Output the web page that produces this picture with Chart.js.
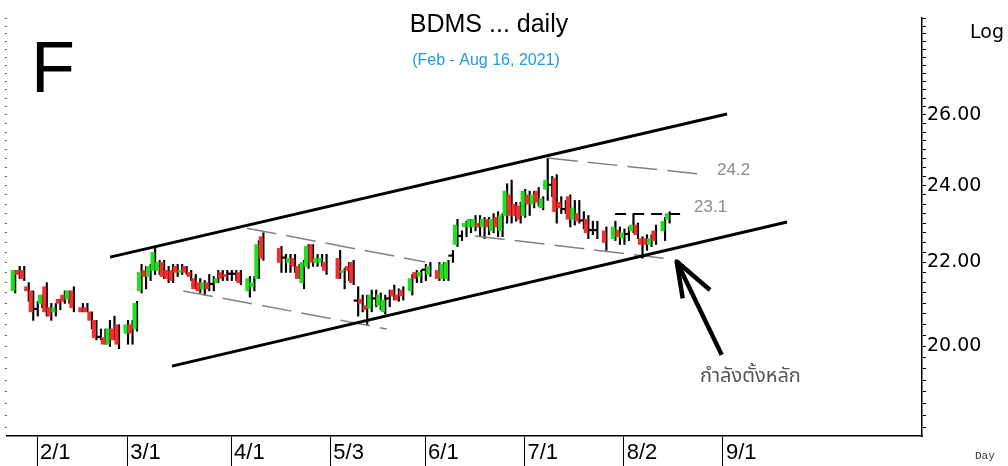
<!DOCTYPE html>
<html><head><meta charset="utf-8">
<script src="https://cdn.jsdelivr.net/npm/chart.js@4.4.1/dist/chart.umd.min.js"></script>
<style>html,body{margin:0;padding:0;background:#fff;overflow:hidden}canvas{display:block}</style>
</head><body>
<canvas id="c" width="1008" height="466"></canvas>
<script>
// Trading-day index of the first candle (Feb 1, 2021 = 0, weekdays counted, holidays = null)
const firstDay = -5;
const open = [
 21.3,21.8,21.8,21.4,21.3,20.85,21.0,21.4,20.9,20.8,
 21.1,21.2,21.1,21.3,null,20.9,20.9,20.8,20.6,20.2,
 20.2,20.05,20.4,20.5,null,20.3,20.5,20.4,21.3,21.8,
 21.65,21.8,21.8,22.0,21.8,21.8,21.9,21.75,21.9,21.75,
 21.6,21.5,21.35,21.5,21.45,21.5,21.75,21.7,21.7,21.7,
 21.75,null,21.3,21.4,21.6,22.65,null,null,null,22.35,
 22.1,22.0,22.1,21.9,21.5,21.9,22.45,22.0,22.0,22.0,
 null,null,22.1,21.75,21.9,22.0,21.05,21.1,20.95,20.88,
 21.1,20.95,20.8,21.1,21.32,21.2,21.32,null,21.3,21.75,
 21.65,21.8,21.7,null,21.8,21.6,21.6,22.15,22.45,22.65,
 22.9,22.9,22.9,23.0,22.9,23.1,22.8,23.15,22.8,23.2,
 23.75,23.5,23.45,23.2,23.75,23.5,23.85,23.4,23.9,24.0,
 24.2,23.55,23.35,23.7,23.1,23.25,23.05,23.1,22.8,22.8,
 null,22.8,null,22.6,22.82,22.62,22.7,22.8,22.95,22.6,
 22.6,22.45,22.8,null,22.8,23.1];
const high = [
 21.8,21.9,21.9,21.5,21.3,21.05,21.2,21.5,21.0,21.0,
 21.1,21.3,21.3,21.4,null,21.0,21.0,20.8,20.6,20.4,
 20.4,20.6,20.7,20.5,null,20.6,20.6,21.05,21.95,21.9,
 21.95,22.35,22.05,22.05,21.9,21.95,21.95,21.95,21.9,21.8,
 21.7,21.6,21.55,21.7,21.65,21.8,21.8,21.8,21.8,21.8,
 21.8,null,21.65,21.65,22.55,22.75,null,null,null,22.4,
 22.2,22.2,22.2,21.95,22.05,22.45,22.45,22.2,22.2,22.2,
 null,null,22.3,21.85,22.0,22.05,21.4,21.2,21.2,21.32,
 21.32,21.25,21.2,21.32,21.44,21.35,21.4,null,21.7,21.8,
 21.8,21.95,22.0,null,22.0,22.0,22.05,22.3,23.1,22.8,
 23.05,23.1,23.2,23.2,23.15,23.15,23.25,23.3,23.25,24.05,
 24.15,23.55,23.55,23.9,23.85,23.85,23.95,23.7,24.75,24.25,
 24.3,23.7,23.6,23.75,23.6,23.6,23.3,23.2,23.05,23.05,
 null,22.9,null,23.05,22.9,22.85,22.9,23.25,23.0,22.65,
 22.7,22.7,22.95,null,23.15,23.3];
const low = [
 21.25,21.6,21.55,21.05,20.6,20.7,20.9,20.7,20.6,20.7,
 20.85,21.0,21.0,20.8,null,20.8,20.8,20.4,20.15,20.15,
 20.05,20.0,20.15,19.95,null,20.05,20.05,20.35,21.25,21.35,
 21.55,21.7,21.7,21.6,21.5,21.5,21.65,21.7,21.7,21.55,
 21.35,21.25,21.2,21.3,21.3,21.5,21.55,21.55,21.55,21.55,
 21.45,null,21.15,21.3,21.6,22.05,null,null,null,21.75,
 21.75,21.75,21.75,21.6,21.35,21.85,21.9,21.9,21.9,21.7,
 null,null,21.6,21.35,21.55,21.45,20.7,20.8,20.5,20.8,
 20.92,20.85,20.75,20.92,21.08,21.05,21.08,null,21.2,21.5,
 21.5,21.55,21.65,null,21.55,21.55,21.55,22.0,22.4,22.55,
 22.65,22.75,22.8,22.65,22.6,22.7,22.75,22.65,22.65,23.0,
 23.0,23.05,23.0,23.15,23.2,23.4,23.45,23.35,23.6,23.7,
 23.0,23.25,23.25,22.9,22.95,23.0,22.85,22.6,22.7,22.6,
 null,22.3,null,22.55,22.45,22.45,22.55,22.75,22.6,22.1,
 22.3,22.4,22.45,null,22.55,23.0];
const close = [
 21.8,21.7,21.6,21.3,20.8,20.85,21.2,20.8,20.7,20.9,
 21.0,21.05,21.3,20.9,null,20.8,20.8,20.6,20.2,20.2,
 20.05,20.4,20.15,20.05,null,20.5,20.3,21.0,21.75,21.65,
 21.9,22.25,22.0,21.65,21.6,21.55,21.75,21.8,21.75,21.65,
 21.35,21.3,21.5,21.35,21.45,21.6,21.6,21.65,21.7,21.7,
 21.5,null,21.6,21.5,22.45,22.1,null,null,null,22.0,
 22.1,22.1,21.9,21.6,22.0,22.4,22.0,22.1,22.1,21.8,
 null,null,21.6,21.8,21.8,21.5,21.05,21.0,20.85,21.2,
 21.1,21.2,21.08,21.1,21.17,21.08,21.18,null,21.6,21.6,
 21.75,21.8,21.9,null,21.6,21.95,22.0,22.15,22.95,22.65,
 23.0,23.1,23.1,22.9,23.1,22.9,23.1,22.9,23.2,23.85,
 23.2,23.2,23.1,23.85,23.5,23.75,23.55,23.65,24.15,24.0,
 23.3,23.4,23.35,23.1,23.4,23.05,23.05,22.75,22.8,22.8,
 null,22.5,null,22.9,22.65,22.75,22.7,22.95,22.7,22.45,
 22.45,22.6,22.55,null,23.05,23.25];

// x-axis ticks (trading-day index) and their labels
const tickDays = [0,20,43,65,86,108,130,152];
const tickLabels = ['2/1','3/1','4/1','5/3','6/1','7/1','8/2','9/1'];
// price axis labels (log scale) and minor tick step
const priceLabels = [20,22,24,26];
const priceMinorStep = 0.25;
const priceMin = 18.07, priceMax = 29.02;
const dayMin = -6.65, dayMax = 196.1;

// drawn trend lines / annotations, as [tradingDay, price]
const upperChannel = [[16.2,22.13],[152.9,26.03]];
const lowerChannel = [[29.9,19.56],[166.2,23.03]];
const dashAprUpper = [[46.5,22.87],[86.0,22.01]];
const dashMarLower = [[32.4,21.30],[77.5,20.40]];
const dashJulLower = [[97.05,22.67],[140.7,22.08]];
const dashJulUpper = [[113.2,24.76],[148.2,24.30]];
const resistance = [[128.1,23.24],[142.9,23.24]];
const arrowShaft = [[151.72,19.81],[141.75,22.02]];
const arrowHead = [[143.08,21.12],[141.75,22.02],[149.13,21.32]];
const noteLevels = [{text:'24.2', at:[150.7,24.43]},{text:'23.1', at:[145.6,23.42]}];
const noteThai = {text:'กำลังตั้งหลัก', at:[146.9,19.30]};

const GREEN = '#22dd22', RED = '#f03030';
const bodies = [], wicks = [], bodyColors = [];
open.forEach((o, i) => {
  if (o === null) return;
  const d = firstDay + i, c = close[i];
  bodies.push({x: d, y: [Math.min(o, c), Math.max(o, c)]});
  bodyColors.push(c > o ? GREEN : (c < o ? RED : '#000'));
  wicks.push({x: d, y: [low[i], high[i]]});
});
const pts = a => a.map(p => ({x: p[0], y: p[1]}));
const lineDs = (arr, color, width, dash) => ({
  type: 'line', data: pts(arr), borderColor: color, borderWidth: width, borderDash: dash || [],
  pointRadius: 0, fill: false, tension: 0, order: 0, borderCapStyle: 'butt', borderJoinStyle: 'round'
});

const yTicks = [];
for (let v = 18.25; v <= 29.0001; v += priceMinorStep) yTicks.push(Math.round(v * 100) / 100);

const textPlugin = {
  id: 'texts',
  afterDraw(chart) {
    const {ctx, scales: {x, y}} = chart;
    ctx.save();
    ctx.fillStyle = '#000';
    ctx.textBaseline = 'alphabetic';
    ctx.textAlign = 'left';
    ctx.font = '72px "Liberation Sans", Arial, sans-serif';
    ctx.fillText('F', 31, 92);
    ctx.textAlign = 'center';
    ctx.font = '25px "Liberation Sans", Arial, sans-serif';
    ctx.fillText('BDMS ... daily', 489, 32);
    ctx.fillStyle = '#1e9be6';
    ctx.font = '16px "Liberation Sans", Arial, sans-serif';
    ctx.fillText('(Feb - Aug 16, 2021)', 486, 65);
    ctx.textAlign = 'left';
    ctx.fillStyle = '#000';
    ctx.font = '19px "DejaVu Sans", sans-serif';
    ctx.fillText('Log', 970, 38);
    ctx.fillStyle = '#333';
    ctx.font = '11px "Liberation Mono", monospace';
    ctx.fillText('Day', 975, 459);
    ctx.textBaseline = 'middle';
    ctx.fillStyle = '#8c8c8c';
    ctx.font = '17px "Liberation Sans", Arial, sans-serif';
    noteLevels.forEach(n => ctx.fillText(n.text, x.getPixelForValue(n.at[0]), y.getPixelForValue(n.at[1])));
    ctx.fillStyle = '#555';
    ctx.font = '20px "Noto Sans Thai", "Noto Sans", Loma, Garuda, sans-serif';
    ctx.fillText(noteThai.text, x.getPixelForValue(noteThai.at[0]), y.getPixelForValue(noteThai.at[1]));
    ctx.restore();
  }
};

new Chart(document.getElementById('c'), {
  type: 'bar',
  data: {
    datasets: [
      {data: bodies, backgroundColor: bodyColors, barThickness: 3.5, minBarLength: 1.5, order: 2},
      {data: wicks, backgroundColor: '#000', barThickness: 1.5, order: 3},
      lineDs(upperChannel, '#000', 3),
      lineDs(lowerChannel, '#000', 3),
      lineDs(dashAprUpper, '#808080', 1.5, [30, 10]),
      lineDs(dashMarLower, '#808080', 1.5, [30, 10]),
      lineDs(dashJulLower, '#808080', 1.5, [30, 10]),
      lineDs(dashJulUpper, '#808080', 1.5, [30, 10]),
      lineDs(resistance, '#000', 2, [11, 7]),
      lineDs(arrowShaft, '#000', 4.5),
      lineDs(arrowHead, '#000', 4.5)
    ]
  },
  options: {
    responsive: false, animation: false, devicePixelRatio: 1,
    layout: {padding: {top: 18, left: 0, right: 0, bottom: 0}},
    plugins: {legend: {display: false}, tooltip: {enabled: false}},
    scales: {
      x: {
        type: 'linear', min: dayMin, max: dayMax, offset: false,
        afterBuildTicks: s => { s.ticks = tickDays.map(v => ({value: v})); },
        afterFit: s => { s.height = 30; },
        ticks: {autoSkip: false, maxRotation: 0, minRotation: 0, align: 'start', labelOffset: 3, padding: -26,
          color: '#000', font: {family: '"Liberation Sans", Arial, sans-serif', size: 22},
          callback: (v, i) => tickLabels[i]},
        grid: {drawOnChartArea: false, drawTicks: true, tickLength: 30, tickColor: '#000', tickWidth: 1, offset: false},
        border: {display: true, color: '#000', width: 1.5}
      },
      y: {
        type: 'logarithmic', position: 'right', min: priceMin, max: priceMax,
        afterBuildTicks: s => { s.ticks = yTicks.map(v => ({value: v})); },
        afterFit: s => { s.width = 86; },
        ticks: {autoSkip: false, padding: 1, color: '#000', font: {family: '"DejaVu Sans", sans-serif', size: 19},
          callback: v => priceLabels.includes(Math.round(v * 100) / 100) ? Number(v).toFixed(2) : ''},
        grid: {drawOnChartArea: false, drawTicks: true, tickLength: 4, tickColor: '#000', tickWidth: 1},
        border: {display: true, color: '#000', width: 1.5}
      },
      yl: {
        type: 'logarithmic', position: 'left', min: priceMin, max: priceMax,
        afterBuildTicks: s => { s.ticks = yTicks.map(v => ({value: v})); },
        afterFit: s => { s.width = 7; },
        ticks: {display: false, autoSkip: false},
        grid: {drawOnChartArea: false, drawTicks: true, tickLength: 2, tickColor: '#666', tickWidth: 1},
        border: {display: false}
      }
    }
  },
  plugins: [textPlugin]
});
</script>
</body></html>
